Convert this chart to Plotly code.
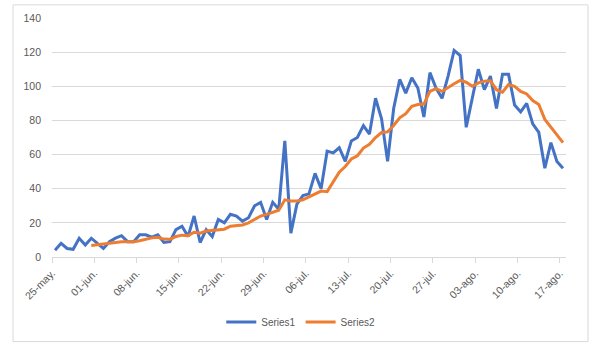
import pandas as pd
import plotly.graph_objects as go

# ---- data ----
start_date = "2020-05-25"
series1 = [4, 8, 5, 4.5, 11, 7, 11, 8, 5, 9, 11, 12.5, 9, 9, 13, 13, 11.6, 13, 8.5, 9,
           16, 18, 12, 24, 8.5, 16, 12, 22, 20, 25, 24, 21, 23, 30, 32, 22, 32, 28, 68, 14,
           31, 36, 37, 49, 40, 62, 61, 64, 56, 68, 70, 77, 72, 93, 81, 56, 87, 104, 96, 105,
           99, 82, 108, 99, 93, 106, 121, 118, 76, 93, 110, 98, 106, 87, 107, 107, 89, 85, 90, 78,
           73, 52, 67, 56, 52]
series2 = [None, None, None, None, None, None, 6.7, 7, 7.5, 8, 8.5, 9, 9, 9, 9.5, 10.5, 11.2, 11.6, 10.5, 10.4,
           12, 12.8, 12.5, 14.5, 14, 15.2, 15.5, 15.8, 16.3, 18, 18.6, 18.8, 20, 22, 24, 25, 26, 27.4, 33.5, 32.8,
           32.8, 33.5, 35.2, 37, 38.6, 38.3, 43.9, 49.7, 53, 57.4, 59.3, 63.8, 66, 70, 72.9, 73.3, 77, 81.5, 84, 88.3,
           89.3, 89.6, 97, 98.6, 97, 99.4, 101.5, 103.4, 102.4, 100, 102, 103, 103.2, 98, 96.5, 101, 100, 97, 95.5, 91.6,
           89.3, 80.6, 75.8, 71.5, 67]
tick_dates = ["2020-05-25", "2020-06-01", "2020-06-08", "2020-06-15", "2020-06-22", "2020-06-29",
              "2020-07-06", "2020-07-13", "2020-07-20", "2020-07-27", "2020-08-03", "2020-08-10", "2020-08-17"]
tick_labels = ["25-may.", "01-jun.", "08-jun.", "15-jun.", "22-jun.", "29-jun.", "06-jul.",
               "13-jul.", "20-jul.", "27-jul.", "03-ago.", "10-ago.", "17-ago."]
series_names = ["Series1", "Series2"]

# points sit in the middle of each day slot (Excel date axis, between tick marks)
days = pd.date_range(start_date, periods=len(series1), freq="D") + pd.Timedelta(hours=12)
x_end = pd.Timestamp(start_date) + pd.Timedelta(days=len(series1))

fig = go.Figure()
fig.add_trace(go.Scatter(x=days, y=series1, mode="lines", name=series_names[0],
                         line=dict(color="#4472C4", width=3)))
fig.add_trace(go.Scatter(x=days, y=series2, mode="lines", name=series_names[1],
                         line=dict(color="#ED7D31", width=3)))

font = dict(family="Liberation Sans, Arial, sans-serif", size=10.5, color="#595959")
legend_font = dict(family="Liberation Sans, Arial, sans-serif", size=10, color="#595959")

fig.update_layout(
    width=601, height=354,
    margin=dict(l=52, r=35, t=16, b=97),
    paper_bgcolor="white", plot_bgcolor="white",
    font=font,
    showlegend=True,
    legend=dict(orientation="h", x=0.484, y=-0.272, xanchor="center", yanchor="middle",
                font=legend_font, itemwidth=30, tracegroupgap=0),
    xaxis=dict(type="date", range=[pd.Timestamp(start_date), x_end],
               tickvals=pd.to_datetime(tick_dates), ticktext=tick_labels,
               tickangle=-45, showgrid=False, zeroline=False,
               showline=True, linecolor="#d9d9d9", linewidth=1,
               ticks="outside", ticklen=5, tickcolor="#d9d9d9", tickwidth=1,
               tickfont=font),
    yaxis=dict(range=[0, 140], dtick=20, showgrid=True, gridcolor="#d9d9d9", gridwidth=1,
               zeroline=False, showline=False, ticks="", ticklabelstandoff=10,
               tickfont=font),
    shapes=[dict(type="rect", xref="paper", yref="paper",
                 x0=-0.0758, x1=1.0428, y0=-0.354, y1=1.055,
                 line=dict(color="#d9d9d9", width=1), fillcolor="rgba(0,0,0,0)", layer="below")],
)

fig.write_html("out.html")
